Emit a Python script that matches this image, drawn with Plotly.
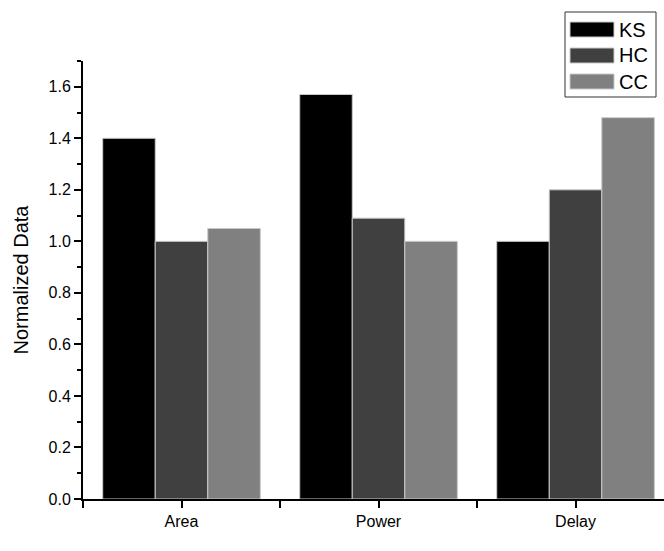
import plotly.graph_objects as go

# Categories and series values (normalized to baseline = 1.0)
categories = ["Area", "Power", "Delay"]
series_names = ["KS", "HC", "CC"]
ks_values = [1.40, 1.57, 1.00]
hc_values = [1.00, 1.09, 1.20]
cc_values = [1.05, 1.00, 1.48]
series_colors = ["#000000", "#404040", "#808080"]

W, H = 664, 551
M_L, M_R, M_T, M_B = 83, 0, 61, 52
plot_w = W - M_L - M_R
plot_h = H - M_T - M_B

x_idx = list(range(len(categories)))
fig = go.Figure()
for name, vals, col in zip(series_names, [ks_values, hc_values, cc_values], series_colors):
    fig.add_trace(go.Bar(
        x=x_idx, y=vals, name=name,
        marker=dict(color=col, line=dict(color="#c8c8c8", width=1)),
        showlegend=False,
    ))

font_family = "Liberation Sans, Arial, sans-serif"

fig.update_layout(
    width=W, height=H,
    margin=dict(l=M_L, r=M_R, t=M_T, b=M_B, pad=0),
    paper_bgcolor="white", plot_bgcolor="white",
    barmode="group", bargap=0.2, bargroupgap=0,
    font=dict(family=font_family, color="black", size=16),
    xaxis=dict(
        range=[-0.5, 2.449],
        tickvals=x_idx, ticktext=categories,
        ticks="outside", ticklen=7, tickwidth=1.5, tickcolor="black",
        showline=True, linecolor="black", linewidth=2,
        showgrid=False, zeroline=False,
        minor=dict(tick0=-0.5, dtick=1, ticks="outside", ticklen=7,
                   tickwidth=1.5, tickcolor="black", showgrid=False),
        tickfont=dict(size=16),
    ),
    yaxis=dict(
        range=[0, 1.7],
        tick0=0, dtick=0.2, tickformat=".1f",
        ticks="outside", ticklen=7, tickwidth=1.5, tickcolor="black",
        showline=True, linecolor="black", linewidth=2,
        showgrid=False, zeroline=False,
        minor=dict(dtick=0.1, ticks="outside", ticklen=4,
                   tickwidth=1.5, tickcolor="black", showgrid=False),
        tickfont=dict(size=16),
        title=dict(text="Normalized Data", font=dict(size=20), standoff=15),
    ),
)

# Legend drawn as a framed box with wide colour swatches
def px_to_paper(px, py):
    return (px - M_L) / plot_w, (H - M_B - py) / plot_h

box_x0, box_y0 = px_to_paper(565, 12)
box_x1, box_y1 = px_to_paper(656, 97)
fig.add_shape(type="rect", xref="paper", yref="paper",
              x0=box_x0, x1=box_x1, y0=box_y1, y1=box_y0,
              line=dict(color="#333333", width=1), fillcolor="white")
for i, (name, col) in enumerate(zip(series_names, series_colors)):
    top = 22 + i * 26
    sx0, sy0 = px_to_paper(570, top)
    sx1, sy1 = px_to_paper(614, top + 15)
    fig.add_shape(type="rect", xref="paper", yref="paper",
                  x0=sx0, x1=sx1, y0=sy1, y1=sy0,
                  line=dict(color="#c8c8c8", width=1), fillcolor=col)
    tx, ty = px_to_paper(617, top + 7.5)
    fig.add_annotation(xref="paper", yref="paper", x=tx, y=ty,
                       text=name, showarrow=False, xanchor="left", yanchor="middle",
                       font=dict(size=20, family=font_family, color="black"))

fig.write_html("out.html")
